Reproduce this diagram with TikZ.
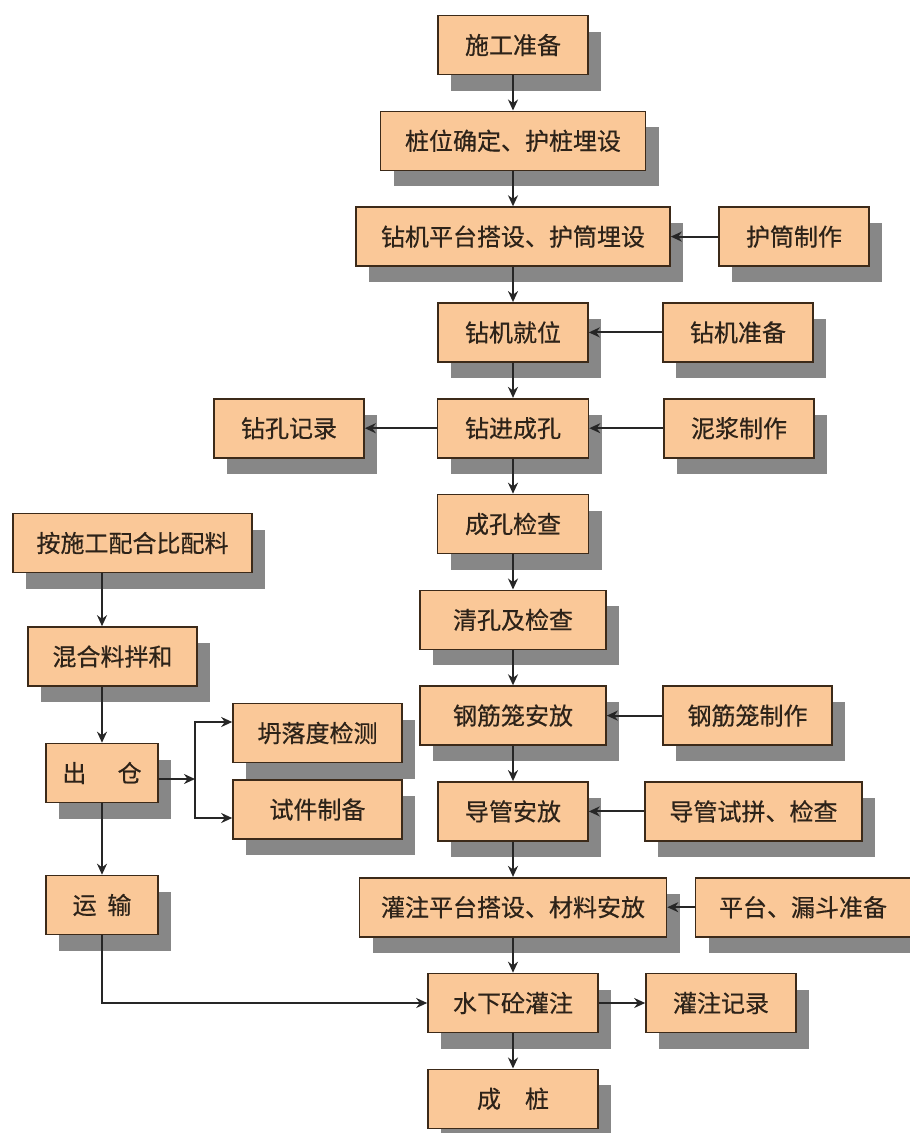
\documentclass[tikz,border=0pt]{standalone}
\usepackage{fontspec}
\newfontfamily\cjkfont[FakeBold=0.5,UprightFeatures={FakeBold=0.5}]{Noto Sans CJK SC}
\usetikzlibrary{shadows,arrows.meta}
\definecolor{boxfill}{RGB}{250,200,152}
\definecolor{boxline}{RGB}{60,42,25}
\definecolor{boxshadow}{RGB}{135,135,135}
\definecolor{boxtext}{RGB}{45,35,25}
\begin{document}
\begin{tikzpicture}[x=1pt, y=-1pt, node distance=95.8pt,
  box/.style={draw=boxline, line width=1.6pt, fill=boxfill, rectangle,
    minimum height=59pt, inner sep=0pt, text=boxtext,
    font=\cjkfont\fontsize{24}{28}\selectfont,
    drop shadow={shadow xshift=13pt, shadow yshift=-16pt, fill=boxshadow, opacity=1}},
  arr/.style={-{Stealth[length=11pt, width=10pt]}, line width=2pt, draw=black!85}]
\useasboundingbox (0,0) rectangle (910,1133);
% main column
\node  (prep)[box, minimum width=150pt] at (513,45) {施工准备};
\node  (stake)[box, minimum width=265pt] [below of = prep] {桩位确定、护桩埋设};
\node  (rig)[box, minimum width=314pt] [below of = stake] {钻机平台搭设、护筒埋设};
\node  (pos)[box, minimum width=150pt] [below of = rig] {钻机就位};
\node  (drill)[box, minimum width=151pt] [below of = pos] {钻进成孔};
\node  (check)[box, minimum width=151pt] [below of = drill] {成孔检查};
\node  (clean)[box, minimum width=186pt] [below of = check] {清孔及检查};
\node  (cage)[box, minimum width=186pt] [below of = clean] {钢筋笼安放};
\node  (pipe)[box, minimum width=150pt] [below of = cage] {导管安放};
\node  (stage)[box, minimum width=307pt] [below of = pipe] {灌注平台搭设、材料安放};
\node  (pour)[box, minimum width=170pt] [below of = stage] {水下砼灌注};
\node  (pile)[box, minimum width=170pt] [below of = pour] {成\hspace{1em}桩};
% side boxes
\node  (casing)[box, minimum width=150pt] [node distance=281pt, right of = rig] {护筒制作};
\node  (rigprep)[box, minimum width=150pt] [node distance=225pt, right of = pos] {钻机准备};
\node  (log)[box, minimum width=150pt] [node distance=224pt, left of = drill] {钻孔记录};
\node  (mud)[box, minimum width=150pt] [node distance=226pt, right of = drill] {泥浆制作};
\node  (cagemake)[box, minimum width=169pt] [node distance=234.5pt, right of = cage] {钢筋笼制作};
\node  (pipetest)[box, minimum width=217pt] [node distance=240.5pt, right of = pipe] {导管试拼、检查};
\node  (funnel)[box, minimum width=215pt] [node distance=290pt, right of = stage] {平台、漏斗准备};
\node  (pourlog)[box, minimum width=150pt] [node distance=208pt, right of = pour] {灌注记录};
% concrete column
\node  (batch)[box, minimum width=239pt] at (132.5,543) {按施工配合比配料};
\node  (mix)[box, minimum width=169pt] at (112.5,656.5) {混合料拌和};
\node  (chu)[box, minimum width=112pt] at (102,773) {出\hspace{1.3em}仓};
\node  (yun)[box, minimum width=112pt] at (102,905) {运\hspace{0.45em}输};
\node  (slump)[box, minimum width=169pt] at (317.5,733) {坍落度检测};
\node  (sample)[box, minimum width=169pt] at (317.5,809.5) {试件制备};
\coordinate (fork) at (195,779);
\draw[arr] (prep) -- (stake);
\draw[arr] (stake) -- (rig);
\draw[arr] (rig) -- (pos);
\draw[arr] (pos) -- (drill);
\draw[arr] (drill) -- (check);
\draw[arr] (check) -- (clean);
\draw[arr] (clean) -- (cage);
\draw[arr] (cage) -- (pipe);
\draw[arr] (pipe) -- (stage);
\draw[arr] (stage) -- (pour);
\draw[arr] (pour) -- (pile);
\draw[arr] (casing) -- (rig);
\draw[arr] (rigprep) -- (pos);
\draw[arr] (drill) -- (log);
\draw[arr] (mud) -- (drill);
\draw[arr] (cagemake) -- (cage);
\draw[arr] (pipetest) -- (pipe);
\draw[arr] (funnel) -- (stage);
\draw[arr] (pour) -- (pourlog);
\draw[arr] (batch.south -| chu) -- (mix.north -| chu);
\draw[arr] (mix.south -| chu) -- (chu);
\draw[arr] (chu) -- (yun);
\draw[arr] (chu.east |- fork) -- (fork);
\draw[arr] (fork) |- ([yshift=11pt]slump.west);
\draw[arr] (fork) |- ([yshift=-8.5pt]sample.west);
\draw[arr] (yun) |- (pour);
\end{tikzpicture}
\end{document}
